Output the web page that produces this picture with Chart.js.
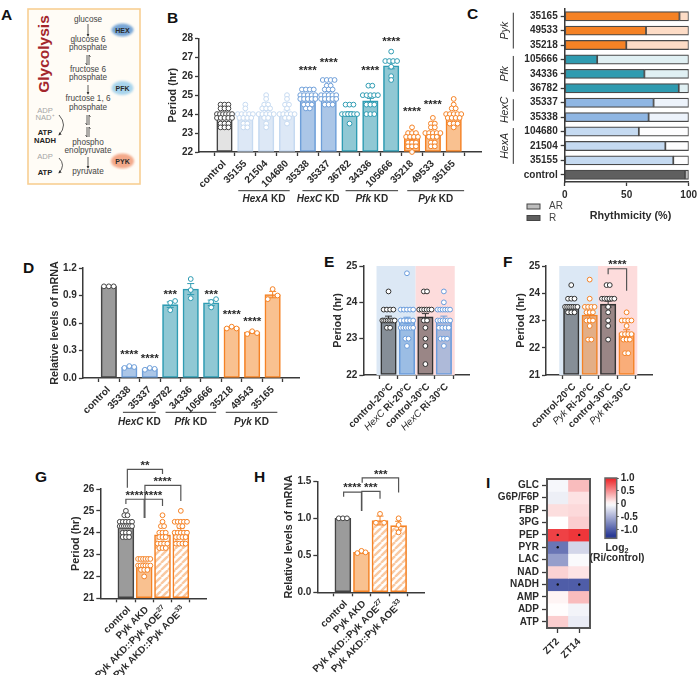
<!DOCTYPE html>
<html>
<head>
<meta charset="utf-8">
<title>Glycolysis and circadian period</title>
<script src="https://cdn.jsdelivr.net/npm/chart.js@4/dist/chart.umd.min.js"></script>
<style>
  html, body { margin: 0; padding: 0; background: #fff; }
  #page { position: relative; width: 700px; height: 675px; overflow: hidden; }
  #page canvas { position: absolute; }
  #page svg { position: absolute; left: 0; top: 0; }
  svg text { font-family: "Liberation Sans", Arial, sans-serif; }
</style>
</head>
<body>
<div id="page">
<svg width="700" height="675" viewBox="0 0 700 675">
  <defs>
    <filter id="soft"><feGaussianBlur stdDeviation="0.9"/></filter>
    <marker id="head" markerWidth="4" markerHeight="4" refX="3" refY="2" orient="auto"><path d="M0,0 L4,2 L0,4 Z" fill="#333"/></marker>
  </defs>
  <g font-weight="bold" font-size="15.5" fill="#111">
    <text x="1" y="20">A</text><text x="167" y="23">B</text><text x="467" y="19">C</text>
    <text x="23" y="273">D</text><text x="324" y="267">E</text><text x="503" y="267">F</text>
    <text x="35" y="482">G</text><text x="254" y="482">H</text><text x="486" y="488">I</text>
  </g>
  <rect x="28" y="9" width="112" height="175" fill="#fffcf6" stroke="#f8cf93" stroke-width="1.6"/>
  <text transform="translate(48.5,54) rotate(-90)" text-anchor="middle" font-weight="bold" font-size="15.5" fill="#a3262c">Glycolysis</text>
  <ellipse cx="122.5" cy="30" rx="11" ry="6.5" fill="#78a6d6" filter="url(#soft)"/>
  <ellipse cx="122.5" cy="88" rx="11" ry="7" fill="#a8d4ec" filter="url(#soft)"/>
  <ellipse cx="122.5" cy="161" rx="11.5" ry="7.5" fill="#f3a98a" filter="url(#soft)"/>
  <g text-anchor="middle" font-weight="bold" font-size="7" fill="#2a2a2a">
    <text x="122.5" y="32.5">HEX</text><text x="122.5" y="90.5">PFK</text><text x="122.5" y="163.5">PYK</text>
  </g>
  <g text-anchor="middle" font-size="8.2" fill="#444">
    <text x="88" y="22">glucose</text>
    <text x="88" y="42">glucose 6</text><text x="88" y="50">phosphate</text>
    <text x="88" y="72">fructose 6</text><text x="88" y="80">phosphate</text>
    <text x="88" y="101">fructose 1, 6</text><text x="88" y="110">phosphate</text>
    <text x="88" y="145">phospho</text><text x="88" y="153">enolpyruvate</text>
    <text x="88" y="174">pyruvate</text>
  </g>
  <g stroke="#333" stroke-width="0.8" fill="none">
    <line x1="88" y1="24" x2="88" y2="36" marker-end="url(#head)"/>
    <line x1="88" y1="85" x2="88" y2="94" marker-end="url(#head)"/>
    <line x1="88" y1="157" x2="88" y2="168" marker-end="url(#head)"/>
    <path d="M87,55 V65 L85.5,63 M89,65 V55 L90.5,57"/>
    <path d="M87,115 V125 L85.5,123 M89,125 V115 L90.5,117"/>
    <path d="M87,127 V137 L85.5,135 M89,137 V127 L90.5,129"/>
    <path d="M59,115 Q68,125 59,135" marker-end="url(#head)"/>
    <path d="M59,158 Q66,165 59,173" marker-end="url(#head)"/>
  </g>
  <g text-anchor="middle" font-size="7.6">
    <text x="45" y="113" fill="#a5a5a5">ADP</text>
    <text x="45" y="120" fill="#a5a5a5">NAD⁺</text>
    <text x="45" y="135" fill="#222" font-weight="bold">ATP</text>
    <text x="45" y="143" fill="#222" font-weight="bold">NADH</text>
    <text x="45" y="159" fill="#a5a5a5">ADP</text>
    <text x="45" y="175" fill="#222" font-weight="bold">ATP</text>
  </g>
</svg>
</div>

<script>
// ---- Panel B: period per knockdown line ----
const bCategories = ['control','35155','21504','104680','35338','35337','36782','34336','105666','35218','49533','35165'];
const bMeans = [23.85,23.95,24.1,24.1,24.85,25.1,24.0,24.7,26.55,22.75,22.95,23.85];
const bErrors = [0.09,0.1,0.1,0.12,0.08,0.09,0.12,0.13,0.16,0.1,0.09,0.09];
const bPoints = [
  [24.5,24.5,24.5,24.3,24.3,24.3,24,24,24,24,24,24,23.8,23.8,23.8,23.8,23.8,23.5,23.5,23.5,23.3,23.3,23.3],
  [24.5,24.3,24,24,24,24,24,23.8,23.8,23.8,23.8,23.5,23.5,23.3,23.3],
  [25,24.8,24.5,24.5,24.3,24.3,24.3,24,24,24,24,24,23.8,23.8,23.5,23.3],
  [25,24.8,24.5,24.5,24.3,24,24,24,24,24,23.8,23.8,23.5],
  [25.3,25.3,25.3,25.3,25,25,25,25,25,24.8,24.8,24.8,24.8,24.8,24.5,24.5,24.5,24.3,24.3],
  [25.8,25.8,25.8,25.8,25.5,25.5,25.3,25.3,25.3,25,25,25,25,25,24.8,24.8,24.8,24.8,24.8,24.5,24.5,24.5],
  [24.5,24.5,24.5,24,24,24,24,24,24,23.5],
  [25.5,25.5,25,25,25,25,25,24.5,24.5,24.5,24,24,24],
  [27.3,26.8,26.8,26.8,26.8,26.5,26,25.8],
  [23.3,23,23,23,22.8,22.8,22.8,22.8,22.5,22.5,22.5,22.3,22.3,22.3,22],
  [23.8,23.5,23.5,23.3,23.3,23,23,23,23,23,22.8,22.8,22.8,22.5,22.5,22.3,22.3],
  [24.8,24.5,24.3,24.3,24,24,24,24,24,23.8,23.8,23.8,23.8,23.5,23.5,23.5,23.3]
];
const bStars = [[4,26.38],[5,26.8],[7,26.38],[8,27.9],[9,24.22],[10,24.59]];

// ---- Panel C: share of rhythmic flies ----
const cLines = ['35165','49533','35218','105666','34336','36782','35337','35338','104680','21504','35155','control'];
const cRhythmic = [92.6,65.6,49.7,26.2,64.3,92,71.7,67.7,59.8,81.2,87.6,97];
const cArrhythmic = [7.4,34.4,50.3,73.8,35.7,8,28.3,32.3,40.2,18.8,12.4,3];

// ---- Panel D: knockdown efficiency ----
const dCategories = ['control','35338','35337','36782','34336','105666','35218','49543','35165'];
const dMeans = [1,0.12,0.1,0.8,0.97,0.82,0.55,0.5,0.91];
const dErrors = [0,0.01,0.01,0.03,0.06,0.03,0.01,0.01,0.035];
const dPoints = [[1,1,1],[0.11,0.13,0.12],[0.09,0.11,0.1],[0.74,0.82,0.84],[0.87,0.96,1.08],[0.77,0.83,0.86],[0.54,0.56,0.54],[0.48,0.51,0.49],[0.86,0.97,0.9]];
const dStars = [[1,0.273,'****'],[2,0.227,'****'],[3,0.933,'***'],[5,0.933,'***'],[6,0.706,'****'],[7,0.638,'****']];

// ---- Panel E: HexC RNAi at two temperatures ----
const eMeans = [23.55,23.5,23.6,23.55];
const eErrors = [0.07,0.09,0.09,0.07];
const ePoints = [
  [24.3,23.8,23.8,23.8,23.8,23.5,23.5,23.5,23.5,23.5,23.5,23.5,23.5,23.3,23.3],
  [24.8,23.8,23.8,23.8,23.8,23.8,23.5,23.5,23.5,23.5,23.5,23.3,23.3,23.3,23.3,23.3,23.3,23,23,22.8],
  [24.3,24.3,23.8,23.8,23.8,23.8,23.8,23.8,23.5,23.5,23.3,23,22.8,22.3],
  [24.3,24,23.8,23.8,23.8,23.8,23.8,23.8,23.5,23.5,23.5,23.5,23.5,23.5,23.3,23.3,23.3,23.3,23,23,23,22.8]
];

// ---- Panel F: Pyk RNAi at two temperatures ----
const fMeans = [23.5,23.2,23.6,22.55];
const fErrors = [0.07,0.12,0.11,0.11];
const fPoints = [
  [24.3,23.8,23.8,23.8,23.5,23.5,23.5,23.5,23.5,23.5,23.5,23.3,23.3,23.3],
  [24.5,23.8,23.5,23.5,23.5,23.5,23.3,23.3,23.3,23,23,23,22.8,22.3,22.3],
  [24.3,24.3,23.8,23.8,23.8,23.8,23.8,23.8,23.5,23.3,23,22.8,22.3],
  [23.3,23,23,23,23,22.8,22.5,22.5,22.5,22.5,22.3,22.3,22.3,21.8,21.8]
];

// ---- Panels G and H: rescue by Pyk overexpression ----
const gMeans = [24.3,22.55,23.9,24.1];
const gErrors = [0.07,0.06,0.1,0.09];
const gPoints = [
  [25,24.8,24.8,24.5,24.5,24.5,24.5,24.5,24.3,24.3,24.3,24.3,24.3,24.3,24.3,24,24,24,23.8,23.8,23.8],
  [22.8,22.8,22.8,22.8,22.8,22.8,22.5,22.5,22.5,22.5,22.5,22.5,22.3,22.3,22.3,22],
  [24.8,24.5,24.3,24.3,24,24,24,23.8,23.8,23.8,23.5,23.5,23.5,23.5,23.3,23.3,23.3],
  [25,24.5,24.5,24.5,24.5,24.5,24.3,24.3,24,24,24,24,24,23.8,23.8,23.8,23.8,23.5,23.5,23.5,23.5]
];
const hMeans = [1,0.54,0.97,0.9];
const hErrors = [0,0.01,0.06,0.06];
const hPoints = [[1,1,1],[0.53,0.56,0.54],[0.94,1.06,0.94],[0.81,0.91,1]];

// ---- Panel I: metabolite changes, log2(RNAi / control) ----
const metabolites = ['GLC','G6P/F6P','FBP','3PG','PEP','PYR','LAC','NAD','NADH','AMP','ADP','ATP'];
const timepoints = ['ZT2','ZT14'];
const logZT2 = [-0.05,-0.1,0.15,0,0.85,-0.85,-0.6,0.2,-1,0.05,0.01,0.22];
const logZT14 = [0.3,0.13,0.17,0.22,0.9,-0.25,-0.03,0.12,-1,0.3,-0.07,-0.12];
const significant = [['ZT2','PEP'],['ZT14','PEP'],['ZT2','PYR'],['ZT2','NADH'],['ZT14','NADH']];

// Axis label text with italic gene names and raised parts.
const it = t => ({t, italic:true});
const itLight = t => ({t, italic:true, light:true});
const sup = t => ({t, sup:true});
const sub = t => ({t, sub:true});
const eLabels = [['control-20°C'],[itLight('HexC'),' Ri-20°C'],['control-30°C'],[itLight('HexC'),' Ri-30°C']];
const fLabels = [['control-20°C'],[itLight('Pyk'),' Ri-20°C'],['control-30°C'],[itLight('Pyk'),' Ri-30°C']];
const gLabels = [['control'],['Pyk AKD'],['Pyk AKD::Pyk AOE',sup('27')],['Pyk AKD::Pyk AOE',sup('33')]];

const FONT = '"Liberation Sans", Arial, sans-serif';
const INK = '#2b2b2b';
const AXIS = '#3a3a3a';

// Fill, outline colours by genotype family.
const tones = {
  ctrlB:  ['#e3e3e3','#444444'],
  ctrl:   ['#9b9b9b','#444444'],
  hexA:   ['#dde8f6','#c6daf1'],
  hexC:   ['#abc6e7','#6f9fd9'],
  pfk:    ['#90c8d4','#2f9cb3'],
  pyk:    ['#f9c190','#f58225'],
  c20:    ['#868e97','#333333'],
  c30:    ['#9a8686','#333333'],
  hex20:  ['#9bbde4','#6a9cdc'],
  hex30:  ['#aebad9','#6a9cdc'],
  pyk20:  ['#e3ae86','#f58225'],
  pyk30:  ['#f9ad79','#f58225']
};

function stripes() {
  const c = document.createElement('canvas');
  c.width = c.height = 7;
  const g = c.getContext('2d');
  g.fillStyle = '#fff';
  g.fillRect(0,0,7,7);
  g.strokeStyle = '#f9c9a2';
  g.lineWidth = 2.4;
  for (const d of [-7,0,7]) { g.beginPath(); g.moveTo(d,7); g.lineTo(d+7,0); g.stroke(); }
  return g.createPattern(c,'repeat');
}

function addCanvas(box) {
  const c = document.createElement('canvas');
  c.width = box.r - box.l;
  c.height = box.b - box.t;
  c.style.left = box.l + 'px';
  c.style.top = box.t + 'px';
  c.style.width = c.width + 'px';
  c.style.height = c.height + 'px';
  document.getElementById('page').appendChild(c);
  return c;
}

// Writes a run of mixed-style text; align 'right' ends the run at the anchor.
function drawRich(ctx, parts, x, y, o) {
  const size = o.size || 10, angle = o.angle || 0;
  const items = parts.map(p => typeof p === 'string' ? {t:p} : p);
  const fontOf = p => `${p.italic ? 'italic ' : ''}${p.light ? '' : 'bold '}${(p.sup||p.sub) ? size*0.7 : size}px ${FONT}`;
  let w = 0;
  items.forEach(p => { ctx.font = fontOf(p); w += ctx.measureText(p.t).width; });
  ctx.save();
  ctx.translate(x,y);
  ctx.rotate(angle);
  ctx.textBaseline = 'middle';
  ctx.textAlign = 'left';
  ctx.fillStyle = o.color || INK;
  let cx = o.align === 'right' ? -w : o.align === 'center' ? -w/2 : 0;
  items.forEach(p => {
    ctx.font = fontOf(p);
    ctx.fillText(p.t, cx, p.sup ? -size*0.35 : p.sub ? size*0.3 : 0);
    cx += ctx.measureText(p.t).width;
  });
  ctx.restore();
}

function starText(ctx, text, x, y) {
  ctx.save();
  ctx.font = `bold 11.6px ${FONT}`;
  ctx.textAlign = 'center';
  ctx.textBaseline = 'middle';
  ctx.fillStyle = INK;
  ctx.fillText(text, x, y + 2);
  ctx.restore();
}

// Places equal values side by side so each row of dots stays readable.
function swarm(values, index, unit) {
  const rows = new Map();
  values.forEach(v => rows.set(v, (rows.get(v) || 0) + 1));
  const out = [];
  rows.forEach((n, v) => {
    const gap = n > 1 ? Math.min(4.3, 16.5 / (n - 1)) : 0;
    for (let i = 0; i < n; i++) out.push({x: index + (i - (n - 1) / 2) * gap * unit, y: v});
  });
  return out;
}

function columnPanel(p) {
  const n = p.points.length;
  const unit = 1 / p.step;
  const box = p.canvas;
  const xMin = (p.plot.l - p.first) / p.step;
  const xMax = (p.plot.r - p.first) / p.step;
  const pts = [], ptEdge = [];
  p.points.forEach((vals, i) => {
    const edge = p.tones[i][1];
    const placed = p.spread
      ? vals.map((v, k) => ({x: i + p.spread[i][k] * 5.5 * unit, y: v}))
      : swarm(vals, i, unit);
    placed.forEach(q => { pts.push(q); ptEdge.push(edge); });
  });

  const overlay = {
    id: 'overlay',
    beforeDatasetsDraw(chart) {
      if (!p.bands) return;
      const {ctx, chartArea: a, scales: {x}} = chart;
      p.bands.forEach(b => {
        ctx.fillStyle = b.color;
        ctx.fillRect(x.getPixelForValue(b.from), a.top, x.getPixelForValue(b.to) - x.getPixelForValue(b.from), a.bottom - a.top);
      });
    },
    beforeDatasetDraw(chart, args) {
      if (args.index !== 1) return;
      const {ctx, scales: {x, y}} = chart;
      p.means.forEach((m, i) => {
        const e = p.errors[i];
        if (!e) return;
        const px = x.getPixelForValue(i), up = y.getPixelForValue(m + e), down = y.getPixelForValue(m - e);
        ctx.strokeStyle = p.tones[i][1];
        ctx.lineWidth = 1;
        ctx.beginPath();
        ctx.moveTo(px, up); ctx.lineTo(px, down);
        ctx.moveTo(px - 3.5, up); ctx.lineTo(px + 3.5, up);
        ctx.moveTo(px - 3.5, down); ctx.lineTo(px + 3.5, down);
        ctx.stroke();
      });
    },
    afterDatasetsDraw(chart) {
      const {ctx, chartArea: a, scales: {x, y}} = chart;
      (p.stars || []).forEach(s => starText(ctx, s[2] || '****', x.getPixelForValue(s[0]), y.getPixelForValue(s[1])));
      (p.brackets || []).forEach(b => {
        const x0 = x.getPixelForValue(b.from), x1 = x.getPixelForValue(b.to);
        ctx.strokeStyle = '#555';
        ctx.lineWidth = 1.2;
        ctx.beginPath();
        ctx.moveTo(x0, y.getPixelForValue(b.left));
        ctx.lineTo(x0, y.getPixelForValue(b.top));
        ctx.lineTo(x1, y.getPixelForValue(b.top));
        ctx.lineTo(x1, y.getPixelForValue(b.right));
        ctx.stroke();
        starText(ctx, b.text, x.getPixelForValue(b.textX), y.getPixelForValue(b.textY));
      });
      (p.groups || []).forEach(g => {
        const x0 = x.getPixelForValue(g.from), x1 = x.getPixelForValue(g.to);
        ctx.strokeStyle = '#333';
        ctx.lineWidth = 1;
        ctx.beginPath();
        ctx.moveTo(x0, a.bottom + p.groupLine);
        ctx.lineTo(x1, a.bottom + p.groupLine);
        ctx.stroke();
        drawRich(ctx, g.label, (x0 + x1) / 2, a.bottom + p.groupText, {align:'center', size:10});
      });
      (p.richLabels || []).forEach((parts, i) => {
        const px = x.getPixelForValue(i);
        drawRich(ctx, parts, px + 3, a.bottom + 10, {align:'right', angle:-Math.PI/4, size:9.8});
      });
    }
  };

  return new Chart(addCanvas(box), {
    type: 'bar',
    data: {
      datasets: [
        {
          type: 'bar',
          order: 1,
          data: p.means.map((m, i) => ({x: i, y: m})),
          base: p.yMin,
          backgroundColor: p.fills || p.tones.map(t => t[0]),
          borderColor: p.tones.map(t => t[1]),
          borderWidth: 1.6,
          borderSkipped: false,
          barThickness: p.barW || 15.5
        },
        {
          type: 'scatter',
          order: 0,
          data: pts,
          pointRadius: 2.4,
          pointBorderWidth: 1,
          pointBackgroundColor: '#ffffff',
          pointBorderColor: ptEdge,
          clip: false
        }
      ]
    },
    options: {
      responsive: false,
      animation: false,
      events: [],
      layout: {autoPadding: false, padding: {left: 0, bottom: 0, top: p.plot.t - box.t, right: box.r - p.plot.r}},
      plugins: {legend: {display: false}, tooltip: {enabled: false}},
      scales: {
        x: {
          type: 'linear',
          min: xMin,
          max: xMax,
          afterBuildTicks: s => { s.ticks = Array.from({length: n}, (_, i) => ({value: i})); },
          afterFit: s => { s.height = box.b - p.plot.b; },
          border: {color: AXIS, width: 1.5},
          grid: {drawOnChartArea: false, tickLength: 4, tickColor: AXIS, tickWidth: 1.3},
          ticks: {
            display: !p.richLabels,
            autoSkip: false,
            minRotation: 45,
            maxRotation: 45,
            padding: 2,
            color: INK,
            font: {family: FONT, size: 10, weight: 'bold'},
            callback: v => p.categories ? p.categories[v] : ''
          }
        },
        y: {
          type: 'linear',
          min: p.yMin,
          max: p.yMax,
          afterFit: s => { s.width = p.plot.l - box.l; },
          border: {color: AXIS, width: 1.5},
          grid: {drawOnChartArea: false, tickLength: 4, tickColor: AXIS, tickWidth: 1.3},
          title: {display: true, text: p.yTitle, color: INK, padding: 0, font: {family: FONT, size: 10.8, weight: 'bold'}},
          ticks: {
            stepSize: p.yStep,
            padding: 2,
            color: INK,
            font: {family: FONT, size: 10, weight: 'bold'},
            callback: v => p.decimals ? v.toFixed(p.decimals) : v
          }
        }
      }
    },
    plugins: [overlay]
  });
}

// B
columnPanel({
  canvas: {l: 167, t: 30, r: 490, b: 212},
  plot: {l: 199, t: 38.3, r: 481, b: 152},
  first: 214, step: 22.73,
  categories: bCategories, means: bMeans, errors: bErrors, points: bPoints,
  tones: ['ctrlB','hexA','hexA','hexA','hexC','hexC','pfk','pfk','pfk','pyk','pyk','pyk'].map(k => tones[k]),
  yMin: 22, yMax: 28, yStep: 1, yTitle: 'Period (hr)',
  stars: bStars,
  groupLine: 38.7, groupText: 47.5,
  groups: [
    {from: 0.66, to: 3.13, label: [it('HexA'),' KD']},
    {from: 3.74, to: 5.24, label: [it('HexC'),' KD']},
    {from: 5.81, to: 8.33, label: [it('Pfk'),' KD']},
    {from: 8.77, to: 11.5, label: [it('Pyk'),' KD']}
  ]
});

// D
columnPanel({
  canvas: {l: 49.4, t: 260, r: 305, b: 432},
  plot: {l: 83.3, t: 267, r: 300, b: 378},
  first: 99, step: 23.1,
  categories: dCategories, means: dMeans, errors: dErrors, points: dPoints,
  tones: ['ctrl','hexC','hexC','pfk','pfk','pfk','pyk','pyk','pyk'].map(k => tones[k]),
  spread: [[-1,0,1],[-1,0,1],[-1,0,1],[0,0,1],[0,0,0],[0,0,1],[-1,0,1],[-1,0,1],[-1,0,1]],
  yMin: 0, yMax: 1.2, yStep: 0.3, decimals: 1, yTitle: 'Relative levels of mRNA',
  stars: dStars,
  groupLine: 34.3, groupText: 44,
  groups: [
    {from: 0.69, to: 2.29, label: [it('HexC'),' KD']},
    {from: 2.77, to: 5.24, label: [it('Pfk'),' KD']},
    {from: 5.71, to: 8.23, label: [it('Pyk'),' KD']}
  ]
});

// E
columnPanel({
  canvas: {l: 332, t: 258, r: 475, b: 450},
  plot: {l: 363.3, t: 266, r: 469, b: 375},
  first: 379.3, step: 24.6,
  means: eMeans, errors: eErrors, points: ePoints, richLabels: eLabels,
  tones: ['c20','hex20','c30','hex30'].map(k => tones[k]),
  bands: [{from: -0.65, to: 1.47, color: '#dce8f5'}, {from: 1.47, to: 3.59, color: '#fddcdc'}],
  yMin: 22, yMax: 25, yStep: 1, yTitle: 'Period (hr)'
});

// F
columnPanel({
  canvas: {l: 515, t: 255, r: 660, b: 450},
  plot: {l: 546, t: 266, r: 652, b: 375},
  first: 562, step: 24.6,
  means: fMeans, errors: fErrors, points: fPoints, richLabels: fLabels,
  tones: ['c20','pyk20','c30','pyk30'].map(k => tones[k]),
  bands: [{from: -0.65, to: 1.45, color: '#dce8f5'}, {from: 1.45, to: 3.58, color: '#fddcdc'}],
  yMin: 21, yMax: 25, yStep: 1, yTitle: 'Period (hr)',
  brackets: [{from: 2, to: 3, top: 24.9, left: 24.7, right: 24.09, text: '****', textX: 2.5, textY: 25.11}]
});

// G
columnPanel({
  canvas: {l: 70.4, t: 458, r: 215, b: 675},
  plot: {l: 100.7, t: 489, r: 207, b: 598.3},
  first: 117.3, step: 24.55, barW: 16,
  means: gMeans, errors: gErrors, points: gPoints, richLabels: gLabels,
  tones: ['ctrl','pyk','pyk','pyk'].map(k => tones[k]),
  fills: [tones.ctrl[0], tones.pyk[0], stripes(), stripes()],
  yMin: 21, yMax: 26, yStep: 1, yTitle: 'Period (hr)',
  brackets: [
    {from: 0.08, to: 2, top: 26.9, left: 26.06, right: 26.69, text: '**', textX: 1.04, textY: 27.14},
    {from: 1.04, to: 3, top: 26.17, left: 25.53, right: 25.45, text: '****', textX: 2, textY: 26.41},
    {from: 0, to: 1, top: 25.53, left: 25.31, right: 24.67, text: '****', textX: 0.47, textY: 25.77},
    {from: 1.04, to: 2, top: 25.53, left: 24.67, right: 25.22, text: '****', textX: 1.5, textY: 25.77}
  ]
});

// H
columnPanel({
  canvas: {l: 283.4, t: 465, r: 432, b: 675},
  plot: {l: 317.7, t: 481.3, r: 425.7, b: 592.3},
  first: 334, step: 24.9, barW: 16,
  means: hMeans, errors: hErrors, points: hPoints, richLabels: gLabels,
  tones: ['ctrl','pyk','pyk','pyk'].map(k => tones[k]),
  fills: [tones.ctrl[0], tones.pyk[0], stripes(), stripes()],
  spread: [[-1,0,1],[-1,0,1],[-1,0,1],[0,0,0]],
  yMin: 0, yMax: 1.5, yStep: 0.5, decimals: 1, yTitle: 'Relative levels of mRNA',
  brackets: [
    {from: 0.04, to: 1, top: 1.355, left: 1.29, right: 1.1, text: '****', textX: 0.5, textY: 1.44},
    {from: 1.02, to: 2, top: 1.365, left: 1.1, right: 1.265, text: '***', textX: 1.5, textY: 1.44},
    {from: 1.04, to: 3, top: 1.545, left: 1.48, right: 1.35, text: '***', textX: 2.04, textY: 1.62}
  ]
});

// C: stacked horizontal bars
(function () {
  const box = {l: 500, t: 0, r: 700, b: 223};
  const plot = {l: 564.7, t: 3.2, r: 690.7, b: 182};
  const family = i => i < 3 ? ['#f58225','#fddcc6'] : i < 6 ? ['#2f9bb0','#e0f0f3'] : i < 8 ? ['#8fb6e3','#edf3fb'] : i < 11 ? ['#c5daf1','#fdfdfe'] : ['#5f5f5f','#bdbdbd'];
  const sides = [
    {from: 0, to: 2, label: 'Pyk'},
    {from: 3, to: 5, label: 'Pfk'},
    {from: 6, to: 7, label: 'HexC'},
    {from: 8, to: 10, label: 'HexA'}
  ];
  const legendItems = [['AR', '#bdbdbd', 206.5], ['R', '#5f5f5f', 218]];
  const overlay = {
    id: 'overlay',
    afterDatasetsDraw(chart) {
      const {ctx, scales: {y}} = chart;
      sides.forEach(s => {
        const a = y.getPixelForValue(s.from) - 3.5, b = y.getPixelForValue(s.to) + 3.5;
        ctx.strokeStyle = '#333';
        ctx.lineWidth = 1;
        ctx.beginPath();
        ctx.moveTo(13.3, a);
        ctx.lineTo(13.3, b);
        ctx.stroke();
        ctx.save();
        ctx.translate(5, (a + b) / 2);
        ctx.rotate(-Math.PI / 2);
        ctx.font = `italic 10.5px ${FONT}`;
        ctx.fillStyle = INK;
        ctx.textAlign = 'center';
        ctx.textBaseline = 'middle';
        ctx.fillText(s.label, 0, 0);
        ctx.restore();
      });
      legendItems.forEach(([name, color, py]) => {
        ctx.fillStyle = color;
        ctx.strokeStyle = '#444';
        ctx.lineWidth = 1;
        ctx.fillRect(27, py - 2.5, 13, 5);
        ctx.strokeRect(27, py - 2.5, 13, 5);
        ctx.fillStyle = '#444';
        ctx.font = `10px ${FONT}`;
        ctx.textAlign = 'left';
        ctx.textBaseline = 'middle';
        ctx.fillText(name, 49, py);
      });
      drawRich(ctx, ['Rhythmicity (%)'], 130.5, 216, {align: 'center', size: 10.8});
    }
  };
  new Chart(addCanvas(box), {
    type: 'bar',
    data: {
      labels: cLines,
      datasets: [
        {label: 'R', data: cRhythmic, backgroundColor: cLines.map((_, i) => family(i)[0])},
        {label: 'AR', data: cArrhythmic, backgroundColor: cLines.map((_, i) => family(i)[1])}
      ].map(d => Object.assign(d, {borderColor: '#4a4a4a', borderWidth: 1.2, borderSkipped: false, barThickness: 9.2}))
    },
    options: {
      indexAxis: 'y',
      responsive: false,
      animation: false,
      events: [],
      layout: {autoPadding: false, padding: {left: 0, bottom: 0, top: plot.t - box.t, right: box.r - plot.r}},
      plugins: {legend: {display: false}, tooltip: {enabled: false}},
      scales: {
        x: {
          stacked: true,
          min: 0,
          max: 100,
          afterFit: s => { s.height = box.b - plot.b; },
          border: {color: AXIS, width: 1.5},
          grid: {drawOnChartArea: false, tickLength: 4, tickColor: AXIS, tickWidth: 1.3},
          ticks: {stepSize: 50, padding: 3, color: INK, maxRotation: 0, font: {family: FONT, size: 10, weight: 'bold'}}
        },
        y: {
          stacked: true,
          afterFit: s => { s.width = plot.l - box.l; },
          border: {color: AXIS, width: 1.5},
          grid: {drawOnChartArea: false, offset: false, tickLength: 4, tickColor: AXIS, tickWidth: 1.3},
          ticks: {padding: 3, autoSkip: false, color: INK, font: {family: FONT, size: 10, weight: 'bold'}}
        }
      }
    },
    plugins: [overlay]
  });
})();

// I: heat map built from one floating bar per cell
function heatColor(v) {
  const mix = (a, b, t) => a.map((c, i) => Math.round(c + (b[i] - c) * t));
  const t = Math.max(-1, Math.min(1, v >= 0 ? v : v / 1.2));
  const rgb = t >= 0 ? mix([255,255,255], [236,32,36], t) : mix([255,255,255], [44,60,150], -t);
  return `rgb(${rgb.join(',')})`;
}

(function () {
  const box = {l: 498, t: 470, r: 600, b: 672};
  const plot = {l: 547, t: 476, r: 590, b: 628};
  const frame = {
    id: 'frame',
    afterDatasetsDraw(chart) {
      const {ctx, chartArea: a} = chart;
      ctx.strokeStyle = '#555';
      ctx.lineWidth = 2;
      ctx.strokeRect(a.left, a.top, a.right - a.left, a.bottom - a.top);
    }
  };
  const rows = metabolites.map((m, i) => ({
    type: 'bar',
    label: m,
    order: 1,
    grouped: false,
    data: [[i, i + 1], [i, i + 1]],
    backgroundColor: [heatColor(logZT2[i]), heatColor(logZT14[i])],
    borderWidth: 0,
    categoryPercentage: 1,
    barPercentage: 1
  }));
  const marks = {
    type: 'scatter',
    order: 0,
    data: significant.map(([t, m]) => ({x: t, y: metabolites.indexOf(m) + 0.5})),
    pointRadius: 1.2,
    pointBackgroundColor: '#111',
    pointBorderWidth: 0
  };
  new Chart(addCanvas(box), {
    type: 'bar',
    data: {labels: timepoints, datasets: [marks, ...rows]},
    options: {
      responsive: false,
      animation: false,
      events: [],
      layout: {autoPadding: false, padding: {left: 0, bottom: 0, top: plot.t - box.t, right: box.r - plot.r}},
      plugins: {legend: {display: false}, tooltip: {enabled: false}},
      scales: {
        x: {
          type: 'category',
          labels: timepoints,
          afterFit: s => { s.height = box.b - plot.b; },
          border: {display: false},
          grid: {drawOnChartArea: false, offset: false, tickLength: 5, tickColor: AXIS, tickWidth: 1.3},
          ticks: {minRotation: 45, maxRotation: 45, padding: 3, color: INK, font: {family: FONT, size: 10, weight: 'bold'}}
        },
        y: {
          type: 'linear',
          reverse: true,
          min: 0,
          max: metabolites.length,
          afterFit: s => { s.width = plot.l - box.l; },
          afterBuildTicks: s => { s.ticks = metabolites.map((_, i) => ({value: i + 0.5})); },
          border: {display: false},
          grid: {drawOnChartArea: false, tickLength: 5, tickColor: AXIS, tickWidth: 1.3},
          ticks: {
            autoSkip: false,
            padding: 3,
            color: INK,
            font: {family: FONT, size: 10, weight: 'bold'},
            callback: v => metabolites[Math.floor(v)]
          }
        }
      }
    },
    plugins: [frame]
  });
})();

// Colour key for the heat map
(function () {
  const range = [-1.32, 1];
  const box = {l: 580, t: 470, r: 660, b: 570};
  const plot = {l: 605, t: 475.7, r: 616.7, b: 538.3};
  const caption = {
    id: 'caption',
    afterDatasetsDraw(chart) {
      const {ctx, chartArea: a} = chart;
      ctx.strokeStyle = '#666';
      ctx.lineWidth = 1.5;
      ctx.strokeRect(a.left, a.top, a.right - a.left, a.bottom - a.top);
      drawRich(ctx, ['Log', sub('2')], 37, 78, {align: 'center', size: 10.3});
      drawRich(ctx, ['(Ri/control)'], 37, 88, {align: 'center', size: 10.3});
    }
  };
  new Chart(addCanvas(box), {
    type: 'bar',
    data: {
      labels: ['key'],
      datasets: [{
        data: [range],
        borderWidth: 0,
        categoryPercentage: 1,
        barPercentage: 1,
        backgroundColor: ctx => {
          const a = ctx.chart.chartArea, y = ctx.chart.scales.y;
          if (!a || !y) return '#fff';
          const g = ctx.chart.ctx.createLinearGradient(0, a.bottom, 0, a.top);
          for (let k = 0; k <= 20; k++) {
            const v = range[0] + (range[1] - range[0]) * k / 20;
            g.addColorStop(k / 20, heatColor(v));
          }
          return g;
        }
      }]
    },
    options: {
      responsive: false,
      animation: false,
      events: [],
      layout: {autoPadding: false, padding: {left: plot.l - box.l, top: plot.t - box.t, right: 0, bottom: box.b - plot.b}},
      plugins: {legend: {display: false}, tooltip: {enabled: false}},
      scales: {
        x: {display: false},
        y: {
          position: 'right',
          min: range[0],
          max: range[1],
          afterFit: s => { s.width = box.r - plot.r; },
          afterBuildTicks: s => { s.ticks = [1, 0.5, 0, -0.5, -1].map(value => ({value})); },
          border: {display: false},
          grid: {drawOnChartArea: false, tickLength: 2, tickColor: '#444', tickWidth: 1},
          ticks: {
            padding: 2,
            color: INK,
            font: {family: FONT, size: 10, weight: 'bold'},
            callback: v => v === 0 ? '0' : v.toFixed(1)
          }
        }
      }
    },
    plugins: [caption]
  });
})();
</script>
</body>
</html>
